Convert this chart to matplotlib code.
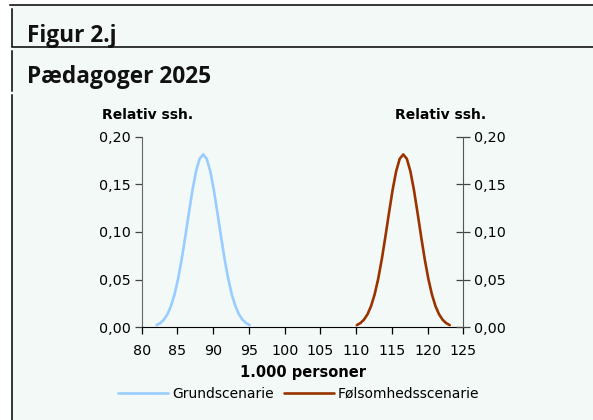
import matplotlib
matplotlib.use("Agg")
import matplotlib.pyplot as plt
from matplotlib.lines import Line2D
from matplotlib.patches import Rectangle

# ---- data ----
grund_x = [82.1, 82.6, 83.1, 83.6, 84.1, 84.6, 85.1, 85.6, 86.1, 86.6, 87.1, 87.6, 88.1,
           88.6, 89.1, 89.6, 90.1, 90.6, 91.1, 91.6, 92.1, 92.6, 93.1, 93.6, 94.1, 94.6, 95.1]
grund_y = [0.0023, 0.0044, 0.0080, 0.0137, 0.0224, 0.0347, 0.0511, 0.0716, 0.0951, 0.1199,
           0.1437, 0.1635, 0.1767, 0.1813, 0.1767, 0.1635, 0.1437, 0.1199, 0.0951, 0.0716,
           0.0511, 0.0347, 0.0224, 0.0137, 0.0080, 0.0044, 0.0023]
fols_x = [110.1, 110.6, 111.1, 111.6, 112.1, 112.6, 113.1, 113.6, 114.1, 114.6, 115.1, 115.6,
          116.1, 116.6, 117.1, 117.6, 118.1, 118.6, 119.1, 119.6, 120.1, 120.6, 121.1, 121.6,
          122.1, 122.6, 123.1]
fols_y = [0.0023, 0.0044, 0.0080, 0.0137, 0.0224, 0.0347, 0.0511, 0.0716, 0.0951, 0.1199,
          0.1437, 0.1635, 0.1767, 0.1813, 0.1767, 0.1635, 0.1437, 0.1199, 0.0951, 0.0716,
          0.0511, 0.0347, 0.0224, 0.0137, 0.0080, 0.0044, 0.0023]
x_ticks = [80, 85, 90, 95, 100, 105, 110, 115, 120, 125]
y_ticks = [0.00, 0.05, 0.10, 0.15, 0.20]
y_tick_labels = ["0,00", "0,05", "0,10", "0,15", "0,20"]
series_names = ["Grundscenarie", "Følsomhedsscenarie"]
fig_label = "Figur 2.j"
title = "Pædagoger 2025"
y_label = "Relativ ssh."
x_label = "1.000 personer"

W, H = 593, 420
BG = "#F2F9F6"
BLUE = "#99CCFF"
BROWN = "#993300"

plt.rcParams['font.family'] = ['DejaVu Sans']
fig = plt.figure(figsize=(W / 100, H / 100), dpi=100, facecolor="white")

def fx(px):
    return px / W

def fy(py):
    return 1 - py / H

# background panel
fig.patches.append(Rectangle((fx(12), 0), 1 - fx(12), fy(5), transform=fig.transFigure,
                             facecolor=BG, edgecolor="none", zorder=-10))
# frame lines
for (x0, y0, x1, y1) in [(10, 5, 593, 5), (12, 47.3, 593, 47.3),
                         (12, 9, 12, 46), (12, 51, 12, 91), (12, 95, 12, 420)]:
    fig.add_artist(Line2D([fx(x0), fx(x1)], [fy(y0), fy(y1)], transform=fig.transFigure,
                          color="black", lw=1.1, zorder=-5))

fig.text(fx(27), fy(41.7), fig_label, fontsize=16.3, fontweight="bold", ha="left",
         va="baseline", family="Open Sans", color="#111111")
fig.text(fx(27), fy(82.7), title, fontsize=16.3, fontweight="bold", ha="left",
         va="baseline", family="Open Sans", color="#111111")

# axes: left 141.7, right 463.3, bottom 327.3 (y=0), top y=0.20 at 136.6
ax = fig.add_axes([fx(141.7), fy(327.3), fx(463.3) - fx(141.7), (327.3 - 136.6) / H])
ax.set_facecolor("none")
ax.plot(grund_x, grund_y, color=BLUE, lw=1.9, solid_capstyle="round",
        solid_joinstyle="round", label=series_names[0])
ax.plot(fols_x, fols_y, color=BROWN, lw=1.9, solid_capstyle="round",
        solid_joinstyle="round", label=series_names[1])
ax.set_xlim(80, 125)
ax.set_ylim(0, 0.20)
ax.set_xticks(x_ticks)
ax.set_xticklabels([str(v) for v in x_ticks])
ax.set_yticks(y_ticks)
ax.set_yticklabels(y_tick_labels)
ax.spines["top"].set_visible(False)
ax.spines["right"].set_visible(False)
ax.spines["left"].set_color("#666666")
ax.spines["bottom"].set_color("black")
ax.tick_params(axis="both", labelsize=10.3, colors="black", length=5, width=0.9, pad=3)
ax.tick_params(axis="x", pad=7)
ax.tick_params(axis="y", color="#444444")

ax2 = ax.twinx()
ax2.set_ylim(0, 0.20)
ax2.set_yticks(y_ticks)
ax2.set_yticklabels(y_tick_labels)
for s in ["top", "left", "bottom"]:
    ax2.spines[s].set_visible(False)
ax2.spines["right"].set_color("#555555")
ax2.tick_params(axis="y", direction="inout", length=10, width=0.9, labelsize=10.3,
                color="#444444", pad=3)
ax2.set_facecolor("none")

ax.set_xlabel(x_label, fontsize=10.5, fontweight="bold", labelpad=5)
fig.text(fx(147.5), fy(115), y_label, fontsize=10, fontweight="bold", ha="center", va="center")
fig.text(fx(441), fy(115), y_label, fontsize=10, fontweight="bold", ha="center", va="center")

leg = ax.legend(loc="upper center", bbox_to_anchor=(fx(299), fy(381)), bbox_transform=fig.transFigure,
                ncol=2, frameon=False, fontsize=10, handlelength=3.6, handletextpad=0.3,
                columnspacing=0.7, borderaxespad=0)

fig.savefig("out.png", dpi=100, facecolor="white")
